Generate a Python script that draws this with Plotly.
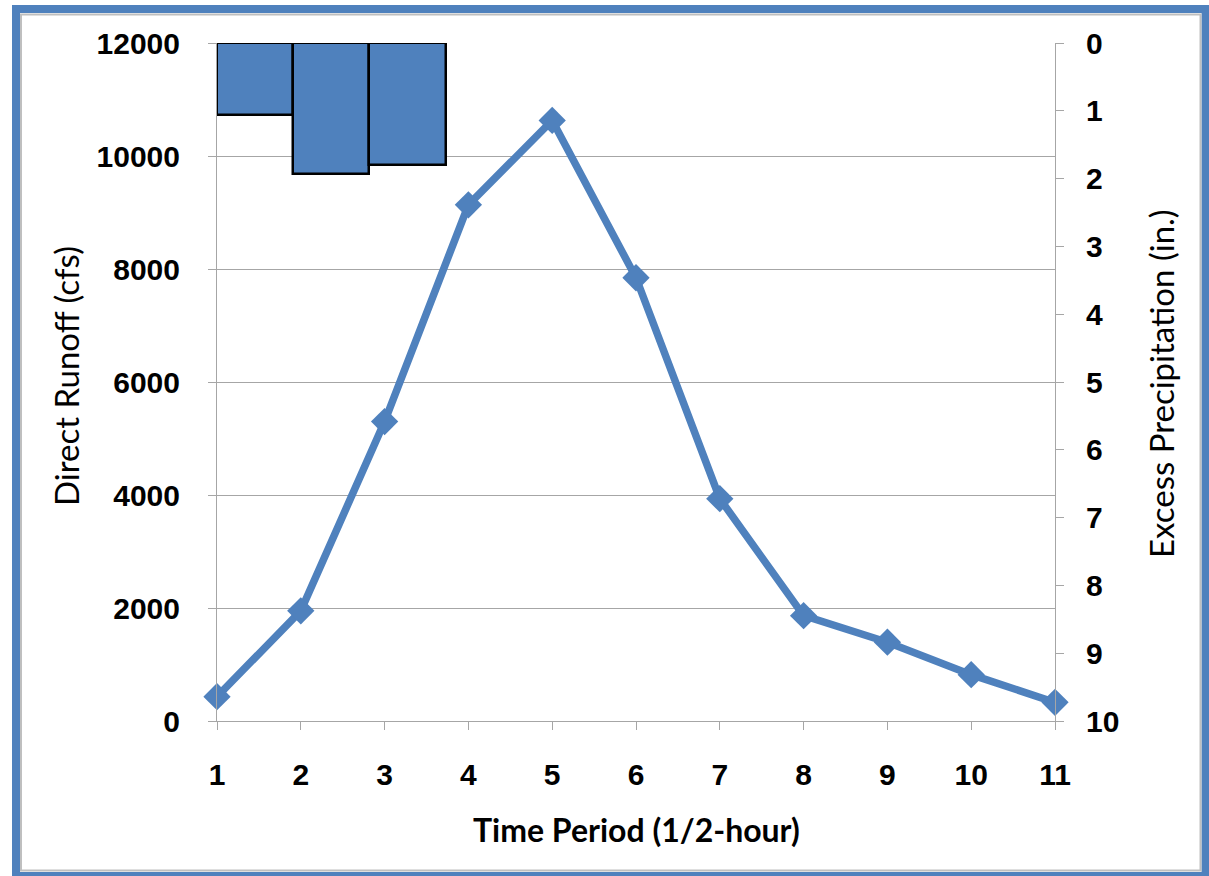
import plotly.graph_objects as go

# ---- data ----
periods = [1, 2, 3, 4, 5, 6, 7, 8, 9, 10, 11]
runoff_cfs = [430, 1950, 5300, 9135, 10630, 7845, 3935, 1865, 1395, 820, 330]
precip_periods = [1, 2, 3]
excess_precip_in = [1.06, 1.93, 1.80]
left_ticks = [0, 2000, 4000, 6000, 8000, 10000, 12000]
right_ticks = [0, 1, 2, 3, 4, 5, 6, 7, 8, 9, 10]

W, H = 1209, 876
L, R, T, B = 217, 154, 43, 155
PW, PH = W - L - R, H - T - B

def px(x):
    return (x - L) / PW

def py(y):
    return (H - B - y) / PH

BLUE = "#4F81BD"
GRID = "#A6A6A6"
TICKFONT = dict(family="Liberation Sans", size=30, color="black", weight="bold")

fig = go.Figure()

# precipitation bars on secondary axes (11 equal-width slots across the plot)
fig.add_trace(go.Bar(
    x=[p - 0.5 for p in precip_periods], y=excess_precip_in, base=0, width=1,
    xaxis="x2", yaxis="y2",
    marker=dict(color=BLUE, line=dict(color="black", width=2.5)),
    showlegend=False, hoverinfo="skip",
))

# direct runoff line
fig.add_trace(go.Scatter(
    x=periods, y=runoff_cfs, mode="lines+markers",
    line=dict(color=BLUE, width=7.5),
    marker=dict(symbol="diamond", size=21, color=BLUE),
    cliponaxis=False, showlegend=False,
))

fig.update_layout(
    width=W, height=H,
    margin=dict(l=L, r=R, t=T, b=B),
    paper_bgcolor="white", plot_bgcolor="white",
    xaxis=dict(
        range=[1, 11], tickvals=periods, ticktext=[str(p) for p in periods],
        showgrid=False, zeroline=False,
        showline=True, linecolor=GRID, linewidth=1,
        ticks="outside", ticklen=8, tickcolor=GRID,
        tickfont=TICKFONT, ticklabelstandoff=19,
    ),
    yaxis=dict(
        range=[0, 12000], tickvals=left_ticks,
        ticktext=[str(v) for v in left_ticks],
        showgrid=True, gridcolor=GRID, gridwidth=1, zeroline=False,
        showline=True, linecolor=GRID, linewidth=1,
        ticks="outside", ticklen=8, tickcolor=GRID,
        tickfont=TICKFONT, ticklabelstandoff=22,
    ),
    xaxis2=dict(range=[0, 11], overlaying="x", visible=False),
    yaxis2=dict(
        range=[10, 0], tickvals=right_ticks,
        ticktext=[str(v) for v in right_ticks],
        overlaying="y", side="right",
        showgrid=False, zeroline=False,
        showline=True, linecolor=GRID, linewidth=1,
        ticks="outside", ticklen=8, tickcolor=GRID,
        tickfont=TICKFONT, ticklabelstandoff=16,
    ),
    bargap=0,
    annotations=[
        dict(text="Direct Runoff (cfs)", xref="paper", yref="paper",
             x=px(66), y=py(376), textangle=-90, showarrow=False,
             xanchor="center", yanchor="middle",
             font=dict(family="Lato", size=33, color="black")),
        dict(text="Excess Precipitation (in.)", xref="paper", yref="paper",
             x=px(1161), y=py(384), textangle=-90, showarrow=False,
             xanchor="center", yanchor="middle",
             font=dict(family="Lato", size=33, color="black")),
        dict(text="<b>Time Period (1/2-hour)</b>", xref="paper", yref="paper",
             x=px(636), y=py(829), showarrow=False,
             xanchor="center", yanchor="middle",
             font=dict(family="Lato", size=32, color="black")),
    ],
    shapes=[
        dict(type="rect", xref="paper", yref="paper", layer="above",
             x0=px(16), x1=px(1205.5), y0=py(9), y1=py(876),
             line=dict(color=BLUE, width=8), fillcolor="rgba(0,0,0,0)"),
        dict(type="rect", xref="paper", yref="paper", layer="above",
             x0=px(21), x1=px(1200.5), y0=py(14.5), y1=py(870.5),
             line=dict(color="#BFBFBF", width=2), fillcolor="rgba(0,0,0,0)"),
    ],
)

fig.write_html("out.html")
